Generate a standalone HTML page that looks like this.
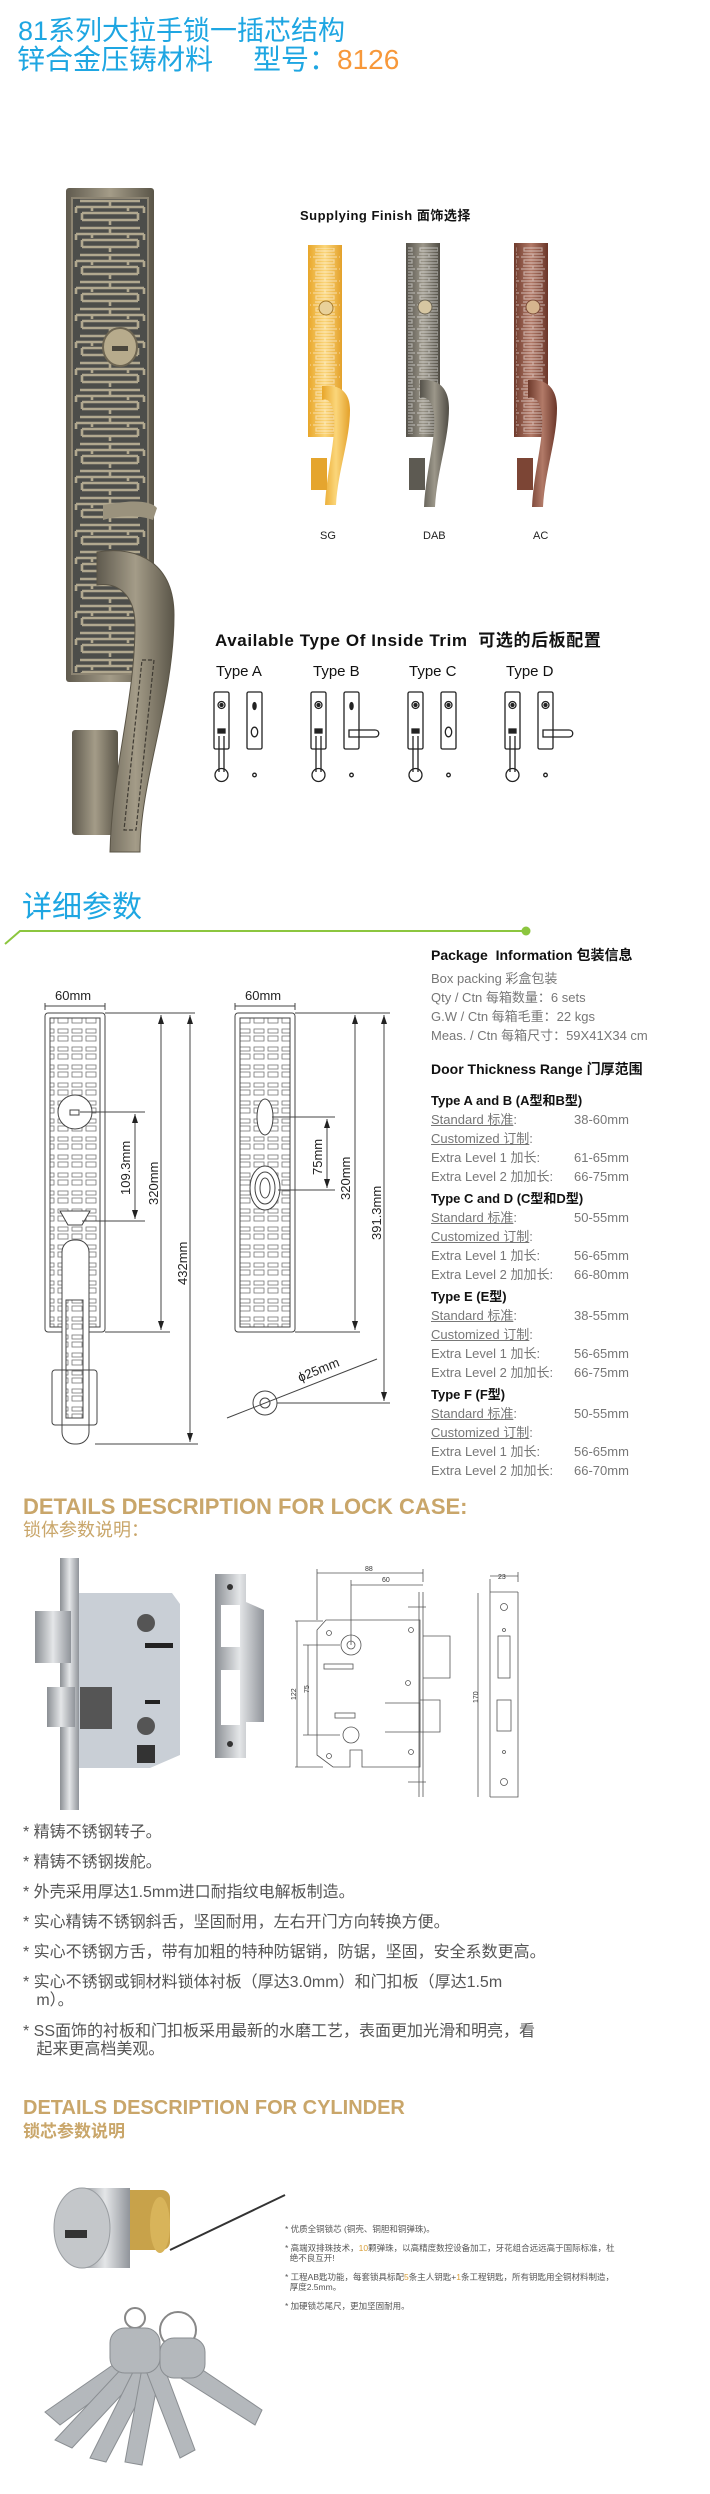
<!DOCTYPE html>
<html><head><meta charset="utf-8">
<style>
*{margin:0;padding:0;box-sizing:border-box}
body{width:710px;height:2494px;background:#fff;position:relative;overflow:hidden;font-family:"Liberation Sans","Noto Sans CJK SC",sans-serif}
.t{position:absolute;white-space:nowrap}
.pk{font-size:13px;color:#777;line-height:19px}
.pk b{color:#111}
.pk u{text-decoration:underline}
.bul{font-size:16px;color:#555;line-height:18px}
.sb{font-size:8.5px;color:#555;line-height:10px}
</style></head><body>

<div class="t" style="left:18px;top:14px;font-size:27px;color:#1ea6e2;line-height:34px">81系列大拉手锁一插芯结构</div>
<div class="t" style="left:17px;top:42px;font-size:28px;color:#1ea6e2;line-height:36px">锌合金压铸材料<span style="display:inline-block;width:40px"></span>型号：<span style="color:#f7983a">8126</span></div>

<svg width="710" height="2494" style="position:absolute;left:0;top:0" xmlns="http://www.w3.org/2000/svg">
<defs>
<pattern id="pat" x="72" y="198" width="76" height="27" patternUnits="userSpaceOnUse">
<rect width="76" height="27" fill="#4c4d4a"/>
<g fill="none" stroke="#b1a88f" stroke-width="2.6">
<path d="M8,3 L68,3 M38,3 L38,9 M4,9 L72,9 M4,9 L4,15 M72,9 L72,15 M10,15 L66,15 M10,15 L10,22 M66,15 L66,22 M10,22 L66,22 M38,22 L38,27"/>
<path d="M20,9 L20,13 M56,9 L56,13"/>
</g>
</pattern>
<pattern id="spat" width="26" height="12" patternUnits="userSpaceOnUse">
<g fill="none" stroke="#fff" stroke-opacity=".45" stroke-width="1.2">
<path d="M3,2 L23,2 M13,2 L13,5 M1,5 L25,5 M4,8 L22,8 L22,11 L4,11 Z"/>
</g>
</pattern>
<pattern id="lpat" width="14" height="18" patternUnits="userSpaceOnUse">
<rect x="2" y="3" width="10" height="4" fill="none" stroke="#777" stroke-width=".8"/>
<rect x="2" y="10" width="10" height="5" fill="none" stroke="#777" stroke-width=".8"/>
</pattern>
<linearGradient id="hg" x1="0" x2="1"><stop offset="0" stop-color="#5f5a4e"/><stop offset=".5" stop-color="#a49c88"/><stop offset="1" stop-color="#5a5548"/></linearGradient>
<linearGradient id="gg" x1="0" x2="1"><stop offset="0" stop-color="#e8a62a"/><stop offset=".5" stop-color="#fbd67a"/><stop offset="1" stop-color="#e3a02a"/></linearGradient>
<linearGradient id="dg" x1="0" x2="1"><stop offset="0" stop-color="#55524a"/><stop offset=".5" stop-color="#9c978a"/><stop offset="1" stop-color="#4f4c44"/></linearGradient>
<linearGradient id="ag" x1="0" x2="1"><stop offset="0" stop-color="#6e3a2c"/><stop offset=".5" stop-color="#b27a68"/><stop offset="1" stop-color="#6a3528"/></linearGradient>
<linearGradient id="sg" x1="0" x2="1"><stop offset="0" stop-color="#8b8f94"/><stop offset=".5" stop-color="#e4e6e8"/><stop offset="1" stop-color="#90949a"/></linearGradient>
</defs>

<!-- main handle -->
<rect x="66" y="188" width="88" height="494" rx="3" fill="url(#hg)"/>
<rect x="72" y="198" width="76" height="476" fill="url(#pat)"/>
<rect x="72" y="198" width="76" height="476" fill="none" stroke="#8c8472" stroke-width="2"/>
<ellipse cx="120" cy="347" rx="17" ry="19" fill="#b7ab8c" stroke="#6d6552" stroke-width="2"/>
<rect x="112" y="346" width="16" height="5" fill="#4a463c"/>
<path d="M103,505 C130,500 150,500 157,508 L153,520 C140,515 120,515 103,520 Z" fill="#9a927d"/>
<rect x="72" y="730" width="46" height="105" rx="3" fill="url(#hg)"/>
<path d="M97,552 C140,545 174,565 174,615 C174,700 140,780 140,852 L110,852 C112,770 135,700 135,625 C135,595 118,582 97,585 Z" fill="url(#hg)" stroke="#5a5446" stroke-width="1"/>
<path d="M142,660 L154,660 L136,830 L124,830Z" fill="none" stroke="#3f3b33" stroke-width="1.2" stroke-dasharray="4 2"/>

<!-- finishes -->
<g>
<rect x="308" y="245" width="34" height="192" fill="url(#gg)"/><rect x="310" y="248" width="30" height="186" fill="url(#spat)"/>
<circle cx="326" cy="308" r="7" fill="#e9d19a" stroke="#a77a2a"/>
<path d="M322,386 C340,384 350,392 350,410 C350,440 338,470 336,505 L325,505 C327,470 336,440 334,414 C332,402 328,398 322,400Z" fill="url(#gg)"/>
<rect x="311" y="458" width="16" height="32" fill="#e5a52e"/>
</g>
<g>
<rect x="406" y="243" width="34" height="194" fill="url(#dg)"/><rect x="408" y="246" width="30" height="188" fill="url(#spat)"/>
<circle cx="425" cy="307" r="7" fill="#d6c6a2" stroke="#6a6354"/>
<path d="M420,380 C440,378 449,390 449,408 C449,440 437,470 435,507 L424,507 C426,470 436,440 434,414 C432,402 428,396 420,398Z" fill="url(#dg)"/>
<rect x="409" y="458" width="16" height="32" fill="#5d5a52"/>
</g>
<g>
<rect x="514" y="243" width="34" height="194" fill="url(#ag)"/><rect x="516" y="246" width="30" height="188" fill="url(#spat)"/>
<circle cx="533" cy="307" r="7" fill="#d6b48e" stroke="#7a4a38"/>
<path d="M528,380 C548,378 557,390 557,408 C557,440 545,470 543,507 L532,507 C534,470 544,440 542,414 C540,402 536,396 528,398Z" fill="url(#ag)"/>
<rect x="517" y="458" width="16" height="32" fill="#7c4535"/>
</g>

<!-- trim icons -->
<g fill="none" stroke="#222" stroke-width="1.3">
<g id="ta">
<rect x="214" y="692" width="15" height="57" rx="1.5"/>
<circle cx="221.5" cy="705" r="3.5"/><circle cx="221.5" cy="705" r="1.5" fill="#222"/>
<rect x="218" y="729" width="7" height="4" fill="#222"/>
<path d="M219,736 L219,772 M224,736 L224,772"/>
<circle cx="221.5" cy="775" r="6.5"/>
<circle cx="254.5" cy="775" r="1.8"/>
</g>
<g><rect x="247" y="692" width="15" height="57" rx="1.5"/><ellipse cx="254.5" cy="706" rx="1.6" ry="3.5" fill="#222"/><ellipse cx="254.5" cy="732" rx="3.2" ry="4.8"/></g>
<use href="#ta" x="97"/>
<g transform="translate(97,0)"><rect x="247" y="692" width="15" height="57" rx="1.5"/><ellipse cx="254.5" cy="706" rx="1.6" ry="3.5" fill="#222"/><path d="M252,730 L278,730 C283,730 283,737 278,737 L252,737 Z"/></g>
<use href="#ta" x="194"/>
<g transform="translate(194,0)"><rect x="247" y="692" width="15" height="57" rx="1.5"/><circle cx="254.5" cy="705" r="3.5"/><circle cx="254.5" cy="705" r="1.5" fill="#222"/><ellipse cx="254.5" cy="732" rx="3.2" ry="4.8"/></g>
<use href="#ta" x="291"/>
<g transform="translate(291,0)"><rect x="247" y="692" width="15" height="57" rx="1.5"/><circle cx="254.5" cy="705" r="3.5"/><circle cx="254.5" cy="705" r="1.5" fill="#222"/><path d="M252,730 L278,730 C283,730 283,737 278,737 L252,737 Z"/></g>
</g>

<!-- green divider -->
<path d="M5,944 L20,931 L526,931" fill="none" stroke="#8cc63f" stroke-width="2"/>
<circle cx="526" cy="931" r="4.5" fill="#8cc63f"/>

<!-- dimension drawings -->
<g fill="none" stroke="#444" stroke-width="1">
<rect x="45" y="1013" width="60" height="319" rx="3"/>
<rect x="50" y="1018" width="50" height="309" fill="url(#lpat)"/>
<rect x="50" y="1018" width="50" height="309"/>
<circle cx="75" cy="1112" r="17" fill="#fff"/>
<rect x="70" y="1110" width="9" height="5"/>
<path d="M60,1211 L90,1211 L82,1225 L68,1225 Z" fill="#fff"/>
<rect x="62" y="1240" width="27" height="204" rx="12" fill="#fff"/>
<rect x="66" y="1300" width="17" height="118" fill="url(#lpat)"/>
<rect x="52" y="1370" width="45" height="55" rx="3"/>
<path d="M45,1003 L45,1010 M105,1003 L105,1010 M45,1006 L105,1006"/>
<path d="M80,1112 L145,1112 M82,1221 L145,1221 M135,1114 L135,1219"/>
<path d="M105,1013 L195,1013 M105,1332 L170,1332 M161,1015 L161,1330 M190,1015 L190,1442 M95,1444 L198,1444"/>
<rect x="235" y="1013" width="60" height="319" rx="3"/>
<rect x="240" y="1018" width="50" height="309" fill="url(#lpat)"/>
<rect x="240" y="1018" width="50" height="309"/>
<ellipse cx="265" cy="1117" rx="8" ry="18" fill="#fff"/>
<ellipse cx="265" cy="1188" rx="15" ry="22" fill="#fff"/>
<ellipse cx="265" cy="1188" rx="10" ry="16"/><ellipse cx="265" cy="1188" rx="5" ry="10"/>
<path d="M235,1003 L235,1010 M295,1003 L295,1010 M235,1006 L295,1006"/>
<path d="M272,1117 L335,1117 M278,1190 L335,1190 M327,1119 L327,1188"/>
<path d="M295,1013 L390,1013 M295,1332 L360,1332 M355,1015 L355,1330 M384,1015 L384,1401 M275,1403 L390,1403"/>
<circle cx="265" cy="1403" r="12" fill="#fff"/><circle cx="265" cy="1403" r="5"/>
<path d="M227,1418 L377,1359"/>
</g>
<g fill="#222">
<path d="M135,1114 l-3,9 h6z M135,1219 l-3,-9 h6z M161,1015 l-3,9 h6z M161,1330 l-3,-9 h6z M190,1015 l-3,9 h6z M190,1442 l-3,-9 h6z"/>
<path d="M327,1119 l-3,9 h6z M327,1188 l-3,-9 h6z M355,1015 l-3,9 h6z M355,1330 l-3,-9 h6z M384,1015 l-3,9 h6z M384,1401 l-3,-9 h6z"/>
</g>
<g font-family="Liberation Sans" font-size="13" fill="#222">
<text x="55" y="1000">60mm</text><text x="245" y="1000">60mm</text>
<text transform="translate(130,1195) rotate(-90)">109.3mm</text>
<text transform="translate(158,1205) rotate(-90)">320mm</text>
<text transform="translate(187,1285) rotate(-90)">432mm</text>
<text transform="translate(322,1175) rotate(-90)">75mm</text>
<text transform="translate(350,1200) rotate(-90)">320mm</text>
<text transform="translate(381,1240) rotate(-90)">391.3mm</text>
<text transform="translate(300,1382) rotate(-22)">ϕ25mm</text>
</g>

<!-- lock case photo -->
<path d="M79,1593 L172,1593 L180,1604 L180,1755 L150,1768 L79,1768Z" fill="#c9cfd6"/>
<rect x="60" y="1558" width="19" height="252" fill="url(#sg)"/>
<rect x="35" y="1611" width="36" height="52" fill="url(#sg)"/>
<rect x="47" y="1687" width="28" height="40" fill="url(#sg)"/>
<rect x="80" y="1687" width="32" height="42" fill="#555"/>
<circle cx="146" cy="1623" r="9" fill="#555"/><circle cx="146" cy="1726" r="9" fill="#555"/>
<rect x="145" y="1643" width="28" height="5" fill="#222"/><rect x="145" y="1700" width="15" height="4" fill="#222"/>
<rect x="137" y="1745" width="18" height="18" fill="#333"/>
<!-- strike plate -->
<path d="M215,1574 L246,1574 L246,1602 L264,1610 L264,1722 L246,1722 L246,1758 L215,1758Z" fill="url(#sg)"/>
<rect x="221" y="1605" width="19" height="42" fill="#fff"/><rect x="221" y="1670" width="19" height="55" fill="#fff"/>
<circle cx="230" cy="1587" r="3" fill="#333"/><circle cx="230" cy="1744" r="3" fill="#333"/>
<!-- lock technical drawing -->
<g fill="none" stroke="#555" stroke-width=".8">
<path d="M317,1573 L423,1573 M351,1585 L423,1585 M317,1569 L317,1620 M423,1569 L423,1582 M351,1580 L351,1645"/>
<path d="M326,1620 L420,1620 L420,1767 L362,1767 L362,1750 L350,1750 L350,1767 L333,1767 L317,1755 L317,1630 Z"/>
<path d="M419,1592 L419,1797 M423,1592 L423,1797 M423,1636 L450,1636 L450,1678 L423,1678 M420,1700 L440,1700 L440,1732 L420,1732 M385,1703 L420,1703 L420,1732 L385,1732 M295,1621 L323,1621 M295,1767 L323,1767 M297,1621 L297,1767 M308,1645 L308,1735 M303,1645 L340,1645 M303,1735 L340,1735"/>
<circle cx="351" cy="1645" r="10"/><circle cx="351" cy="1645" r="4"/>
<circle cx="351" cy="1735" r="8"/>
<rect x="324" y="1664" width="29" height="5"/><rect x="335" y="1713" width="20" height="5"/>
<circle cx="329" cy="1633" r="2.5"/><circle cx="411" cy="1630" r="2.5"/><circle cx="329" cy="1756" r="2.5"/><circle cx="411" cy="1752" r="2.5"/><circle cx="408" cy="1683" r="2.5"/>
<path d="M408,1607 L426,1607 M408,1782 L426,1782"/>
<path d="M478,1593 L478,1797 M490,1579 L490,1797 M490,1592 L518,1592 M490,1797 L518,1797 L518,1592 M490,1576 L518,1576 M518,1572 L518,1582"/>
<rect x="498" y="1636" width="12" height="42"/><rect x="497" y="1700" width="14" height="31"/>
<circle cx="504" cy="1607" r="3.5"/><circle cx="504" cy="1782" r="3.5"/><circle cx="504" cy="1630" r="1.5"/><circle cx="504" cy="1752" r="1.5"/>
</g>
<g font-family="Liberation Sans" font-size="7" fill="#333">
<text x="365" y="1571">88</text><text x="382" y="1582">60</text><text x="498" y="1579">23</text>
<text transform="translate(296,1700) rotate(-90)">122</text><text transform="translate(309,1693) rotate(-90)">75</text><text transform="translate(478,1703) rotate(-90)">170</text>
</g>

<!-- cylinder -->
<path d="M170,2250 L285,2195" stroke="#333" stroke-width="2"/>
<rect x="110" y="2190" width="60" height="60" rx="8" fill="#c8a24a"/>
<ellipse cx="160" cy="2225" rx="10" ry="28" fill="#d8b45a"/>
<rect x="80" y="2188" width="50" height="80" fill="url(#sg)"/>
<ellipse cx="82" cy="2228" rx="28" ry="40" fill="#c4c7ca" stroke="#9a9ea2"/>
<rect x="65" y="2230" width="22" height="8" fill="#333"/>
<!-- keys -->
<g fill="#b4b8bc" stroke="#8a8e92">
<circle cx="135" cy="2318" r="10" fill="none" stroke="#888" stroke-width="2"/>
<circle cx="178" cy="2330" r="18" fill="none" stroke="#888" stroke-width="2"/>
<path d="M45,2412 L120,2360 L132,2372 L60,2425Z"/>
<path d="M55,2440 L125,2365 L140,2375 L72,2448Z"/>
<path d="M90,2458 L135,2368 L152,2375 L106,2462Z"/>
<path d="M125,2462 L142,2368 L160,2370 L142,2465Z"/>
<path d="M180,2458 L145,2368 L162,2362 L195,2450Z"/>
<rect x="110" y="2328" width="50" height="45" rx="15"/>
<path d="M170,2348 L262,2410 L255,2425 L160,2365Z"/>
<rect x="160" y="2338" width="45" height="40" rx="14"/>
</g>
</svg>

<div class="t" style="left:300px;top:205px;font-size:13px;font-weight:bold;color:#111;letter-spacing:.5px">Supplying Finish 面饰选择</div>
<div class="t" style="left:320px;top:530px;font-size:11px;color:#222">SG</div>
<div class="t" style="left:423px;top:530px;font-size:11px;color:#222">DAB</div>
<div class="t" style="left:533px;top:530px;font-size:11px;color:#222">AC</div>
<div class="t" style="left:215px;top:626px;font-size:17px;font-weight:bold;color:#111;letter-spacing:.6px">Available Type Of Inside Trim &nbsp;可选的后板配置</div>
<div class="t" style="left:216px;top:663px;font-size:15px;color:#111">Type A</div>
<div class="t" style="left:313px;top:663px;font-size:15px;color:#111">Type B</div>
<div class="t" style="left:409px;top:663px;font-size:15px;color:#111">Type C</div>
<div class="t" style="left:506px;top:663px;font-size:15px;color:#111">Type D</div>

<div class="t" style="left:22px;top:890px;font-size:30px;color:#1ea6e2;line-height:36px">详细参数</div>

<div class="t pk" style="left:431px;top:946px">
<b style="font-size:14px">Package&nbsp; Information 包装信息</b><br>
<div style="height:4px"></div>
Box packing 彩盒包装<br>Qty / Ctn 每箱数量：6 sets<br>G.W / Ctn 每箱毛重：22 kgs<br>Meas. / Ctn 每箱尺寸：59X41X34 cm
</div>
<div class="t pk" style="left:431px;top:1060px;width:270px">
<b style="font-size:14px">Door Thickness Range 门厚范围</b>
<div style="height:12px"></div>
<b>Type A and B (A型和B型)</b><br>
<u>Standard 标准</u>:<span style="position:absolute;left:143px">38-60mm</span><br>
<u>Customized 订制</u>:<br>
Extra Level 1 加长:<span style="position:absolute;left:143px">61-65mm</span><br>
Extra Level 2 加加长:<span style="position:absolute;left:143px">66-75mm</span><br>
<div style="height:3px"></div>
<b>Type C and D (C型和D型)</b><br>
<u>Standard 标准</u>:<span style="position:absolute;left:143px">50-55mm</span><br>
<u>Customized 订制</u>:<br>
Extra Level 1 加长:<span style="position:absolute;left:143px">56-65mm</span><br>
Extra Level 2 加加长:<span style="position:absolute;left:143px">66-80mm</span><br>
<div style="height:3px"></div>
<b>Type E (E型)</b><br>
<u>Standard 标准</u>:<span style="position:absolute;left:143px">38-55mm</span><br>
<u>Customized 订制</u>:<br>
Extra Level 1 加长:<span style="position:absolute;left:143px">56-65mm</span><br>
Extra Level 2 加加长:<span style="position:absolute;left:143px">66-75mm</span><br>
<div style="height:3px"></div>
<b>Type F (F型)</b><br>
<u>Standard 标准</u>:<span style="position:absolute;left:143px">50-55mm</span><br>
<u>Customized 订制</u>:<br>
Extra Level 1 加长:<span style="position:absolute;left:143px">56-65mm</span><br>
Extra Level 2 加加长:<span style="position:absolute;left:143px">66-70mm</span>
</div>

<div class="t" style="left:23px;top:1495px;font-size:22px;font-weight:bold;color:#c9a66a;line-height:24px">DETAILS DESCRIPTION FOR LOCK CASE:</div>
<div class="t" style="left:23px;top:1519px;font-size:18px;color:#c9a66a;line-height:22px">锁体参数说明：</div>

<div class="t bul" style="left:23px;top:1824px">* 精铸不锈钢转子。</div>
<div class="t bul" style="left:23px;top:1854px">* 精铸不锈钢拨舵。</div>
<div class="t bul" style="left:23px;top:1884px">* 外壳采用厚达1.5mm进口耐指纹电解板制造。</div>
<div class="t bul" style="left:23px;top:1914px">* 实心精铸不锈钢斜舌，坚固耐用，左右开门方向转换方便。</div>
<div class="t bul" style="left:23px;top:1944px">* 实心不锈钢方舌，带有加粗的特种防锯销，防锯，坚固，安全系数更高。</div>
<div class="t bul" style="left:23px;top:1974px">* 实心不锈钢或铜材料锁体衬板（厚达3.0mm）和门扣板（厚达1.5m<br>&nbsp;&nbsp;&nbsp;m）。</div>
<div class="t bul" style="left:23px;top:2023px">* SS面饰的衬板和门扣板采用最新的水磨工艺，表面更加光滑和明亮，看<br>&nbsp;&nbsp;&nbsp;起来更高档美观。</div>

<div class="t" style="left:23px;top:2097px;font-size:20px;font-weight:bold;color:#c9a66a;line-height:22px">DETAILS DESCRIPTION FOR CYLINDER</div>
<div class="t" style="left:23px;top:2121px;font-size:17px;font-weight:bold;color:#c9a66a;line-height:22px">锁芯参数说明</div>

<div class="t sb" style="left:285px;top:2224px">* 优质全铜锁芯 (铜壳、铜胆和铜弹珠)。</div>
<div class="t sb" style="left:285px;top:2243px">* 高端双排珠技术，<span style="color:#d9a03a">10</span>颗弹珠，以高精度数控设备加工，牙花组合远远高于国际标准，杜<br>&nbsp;&nbsp;绝不良互开!</div>
<div class="t sb" style="left:285px;top:2272px">* 工程AB匙功能，每套锁具标配<span style="color:#d9a03a">5</span>条主人钥匙+<span style="color:#d9a03a">1</span>条工程钥匙，所有钥匙用全铜材料制造，<br>&nbsp;&nbsp;厚度2.5mm。</div>
<div class="t sb" style="left:285px;top:2301px">* 加硬锁芯尾尺，更加坚固耐用。</div>

</body></html>
